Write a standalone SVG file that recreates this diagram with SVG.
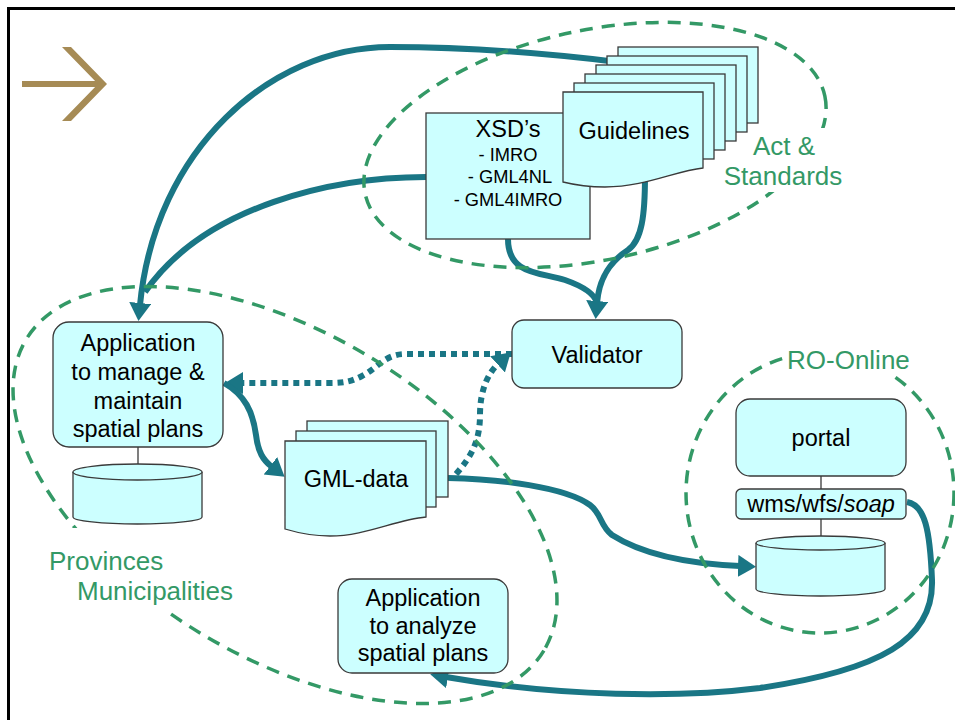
<svg xmlns="http://www.w3.org/2000/svg" width="955" height="720" viewBox="0 0 955 720">
<style>
  .box{fill:#CCFFFF;stroke:#3a3a3a;stroke-width:1.3}
  .t{font-family:"Liberation Sans",Arial,sans-serif;font-size:23.5px;fill:#000;text-anchor:middle}
  .ts{font-family:"Liberation Sans",Arial,sans-serif;font-size:18.3px;fill:#000;text-anchor:middle}
  .g{font-family:"Liberation Sans",Arial,sans-serif;font-size:26px;fill:#339966}
  .zone{fill:none;stroke:#339966;stroke-width:3.5;stroke-dasharray:13 9}
  .c{fill:none;stroke:#1A7685;stroke-width:6}
  .d{fill:none;stroke:#1A7685;stroke-width:6;stroke-dasharray:6 5}
  .ln{stroke:#3a3a3a;stroke-width:1.3}
</style>
<defs>
  <marker id="ah" markerUnits="userSpaceOnUse" markerWidth="20" markerHeight="24" refX="2" refY="11" orient="auto">
    <path d="M0,0 L18,11 L0,22 Z" fill="#1A7685"/>
  </marker>
</defs>
<rect x="8.5" y="8.5" width="1000" height="1000" fill="none" stroke="#000" stroke-width="3"/>
<g id="logo">
  <rect x="22" y="81" width="78" height="6" fill="#A68B55"/>
  <polygon points="62,47 71,47 107,84 71,121 62,121 98,84" fill="#A68B55"/>
</g>
<g id="connectors">
  <path class="c" d="M617,62 C560,55 480,47 390,47 C270,47 155,150 140,305" marker-end="url(#ah)"/>
  <path class="c" d="M426,177 C335,177 205,205 145,292"/>
  <path class="c" d="M508,239 C508,275 540,272 565,280 C585,287 595,295 597,303"/>
  <path class="c" d="M645,176 C645,215 642,240 628,250 C608,263 599,280 597,303" marker-end="url(#ah)"/>
  <path class="d" d="M512,354 H405 C385,354 378,368 362,376 C352,381 345,383 330,383 H241" marker-end="url(#ah)"/>
  <path class="d" d="M456,474 C472,456 480,440 480,415 C480,390 488,373 499,363" marker-end="url(#ah)"/>
  <path class="c" d="M224,383 C245,395 253,412 256,435 C258,452 263,460 272,467" marker-end="url(#ah)"/>
  <path class="c" d="M448,478 C500,479 565,487 590,505 C602,514 600,526 612,535 C645,556 695,564 740,566" marker-end="url(#ah)"/>
  <path class="c" d="M907,502 C925,505 930,530 932,580 C934,640 880,670 760,688 C680,698 560,697 446,677" marker-end="url(#ah)"/>
</g>
<g id="zones">
  <ellipse class="zone" cx="595" cy="145" rx="235" ry="115" transform="rotate(-12 595 145)"/>
  <ellipse class="zone" cx="285" cy="495" rx="302" ry="162" transform="rotate(31 285 495)"/>
  <ellipse class="zone" cx="820" cy="493" rx="134" ry="140"/>
</g>
<g id="label-act">
  <rect x="722" y="128" width="126" height="64" fill="#fff"/>
  <text class="g" x="784" y="155" text-anchor="middle">Act &amp;</text>
  <text class="g" x="783" y="185" text-anchor="middle">Standards</text>
</g>
<g id="label-prov">
  <rect x="45" y="528" width="196" height="84" fill="#fff"/>
  <text class="g" x="49" y="570">Provinces</text>
  <text class="g" x="77" y="600">Municipalities</text>
</g>
<g id="label-ro">
  <rect x="786" y="343" width="128" height="33" fill="#fff"/>
  <text class="g" x="787" y="369">RO-Online</text>
</g>
<g id="xsd">
  <rect class="box" x="426" y="113" width="164" height="126"/>
  <text class="t" x="508" y="137">XSD’s</text>
  <text class="ts" x="508" y="161">- IMRO</text>
  <text class="ts" x="510" y="183">- GML4NL</text>
  <text class="ts" x="508" y="206">- GML4IMRO</text>
</g>
<g id="guidelines">
  <rect class="box" x="618" y="47" width="140" height="76"/>
  <rect class="box" x="607" y="56" width="140" height="76"/>
  <rect class="box" x="596" y="65" width="140" height="76"/>
  <rect class="box" x="585" y="74" width="140" height="76"/>
  <rect class="box" x="574" y="83" width="140" height="76"/>
  <path class="box" d="M563,92 H703 V168 C675,171 645,187 605,187 C588,187 575,185 563,182 Z"/>
  <text class="t" x="634" y="139">Guidelines</text>
</g>
<g id="validator">
  <rect class="box" x="512" y="320" width="170" height="68" rx="12"/>
  <text class="t" x="597" y="363">Validator</text>
</g>
<g id="app-manage">
  <rect class="box" x="53" y="322" width="170" height="125" rx="16"/>
  <text class="t" x="138" y="351">Application</text>
  <text class="t" x="138" y="380">to manage &amp;</text>
  <text class="t" x="138" y="409">maintain</text>
  <text class="t" x="138" y="437">spatial plans</text>
  <line class="ln" x1="138" y1="447" x2="138" y2="464"/>
  <path class="box" d="M73,472 V517 A64.5,7 0 0 0 202,517 V472"/>
  <ellipse class="box" cx="137.5" cy="472" rx="64.5" ry="8"/>
</g>
<g id="gml-data">
  <rect class="box" x="307" y="421" width="141" height="76"/>
  <rect class="box" x="296" y="431" width="140" height="76"/>
  <path class="box" d="M285,441 H426 V517 C395,520 365,536 330,536 C310,536 295,532 285,529 Z"/>
  <text class="t" x="356" y="487">GML-data</text>
</g>
<g id="ro-online">
  <rect class="box" x="736" y="399" width="170" height="77" rx="14"/>
  <text class="t" x="821" y="446">portal</text>
  <line class="ln" x1="821" y1="476" x2="821" y2="489"/>
  <rect class="box" x="736" y="489" width="170" height="30" rx="5"/>
  <text class="t" x="821" y="512">wms/wfs/<tspan font-style="italic">soap</tspan></text>
  <line class="ln" x1="821" y1="519" x2="821" y2="536"/>
  <path class="box" d="M756,543 V589 A64.5,7 0 0 0 885,589 V543"/>
  <ellipse class="box" cx="820.5" cy="543" rx="64.5" ry="7"/>
</g>
<g id="app-analyze">
  <rect class="box" x="338" y="579" width="170" height="94" rx="14"/>
  <text class="t" x="423" y="606">Application</text>
  <text class="t" x="423" y="634">to analyze</text>
  <text class="t" x="423" y="661">spatial plans</text>
</g>
</svg>
